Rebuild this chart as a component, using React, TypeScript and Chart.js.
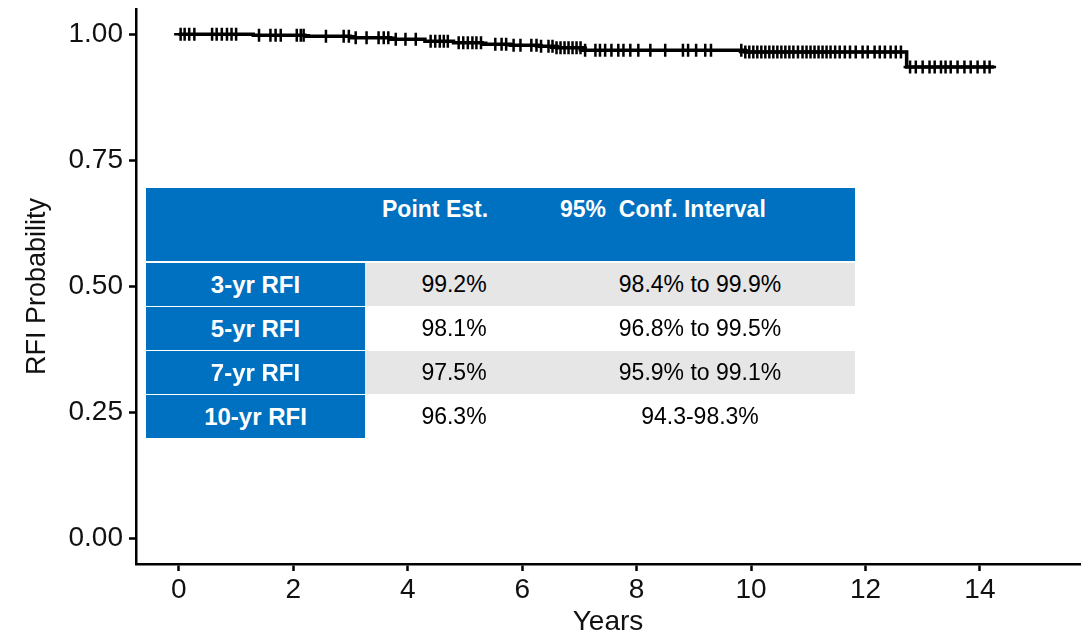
import React, { useEffect, useRef } from "react";
import { Chart, registerables } from "chart.js";

Chart.register(...registerables);

// Kaplan-Meier step curve (years, survival probability)
const kmTimes = [0, 1.3, 2.2, 3.0, 3.7, 4.3, 4.8, 5.3, 5.8, 6.3, 6.6, 7.05, 9.9, 12.72, 14.25];
const kmSurv = [1.0, 0.998, 0.996, 0.993, 0.99, 0.986, 0.983, 0.98, 0.978, 0.976, 0.973, 0.968, 0.965, 0.935, 0.935];

// Censoring times (years)
const censorTimes = [
  0.03, 0.1, 0.18, 0.27, 0.58, 0.66, 0.75, 0.84, 0.92, 1.0, 1.4, 1.6, 1.69, 1.78,
  2.06, 2.13, 2.18, 2.57, 2.88, 2.97, 3.09, 3.28, 3.49, 3.58, 3.66, 3.79, 3.96, 4.14,
  4.4, 4.48, 4.56, 4.63, 4.7, 4.89, 4.97, 5.05, 5.13, 5.2, 5.28, 5.53, 5.64, 5.72,
  5.85, 5.97, 6.16, 6.25, 6.33, 6.46, 6.53, 6.6, 6.67, 6.74, 6.81, 6.88, 6.95, 7.02,
  7.1, 7.28, 7.36, 7.45, 7.56, 7.68, 7.77, 7.89, 8.03, 8.24, 8.5, 8.81, 8.9, 9.04,
  9.2, 9.3, 9.83, 9.9, 9.97, 10.04, 10.11, 10.18, 10.25, 10.32, 10.39, 10.46, 10.53,
  10.6, 10.67, 10.74, 10.82, 10.9, 10.97, 11.04, 11.11, 11.18, 11.25, 11.32, 11.39,
  11.47, 11.55, 11.64, 11.73, 11.83, 11.95, 12.04, 12.16, 12.25, 12.34, 12.44, 12.53,
  12.62, 12.78, 12.88, 13.0, 13.12, 13.21, 13.32, 13.4, 13.49, 13.61, 13.73, 13.84,
  13.96, 14.08, 14.17,
];

const xTicks = [0, 2, 4, 6, 8, 10, 12, 14];
const yTicks = [0, 0.25, 0.5, 0.75, 1.0];

const headerPoint = "Point Est.";
const headerCI = "95%  Conf. Interval";
const rowLabels = ["3-yr RFI", "5-yr RFI", "7-yr RFI", "10-yr RFI"];
const pointEst = ["99.2%", "98.1%", "97.5%", "96.3%"];
const confInt = ["98.4% to 99.9%", "96.8% to 99.5%", "95.9% to 99.1%", "94.3-98.3%"];

const FONT = '"Liberation Sans", Arial, Helvetica, sans-serif';
const BLUE = "#0070C0";
const GRAY = "#E6E6E6";

function survAt(t: number): number {
  let s = kmSurv[0];
  for (let i = 0; i < kmTimes.length; i++) {
    if (kmTimes[i] <= t) s = kmSurv[i];
  }
  return s;
}

export default function App() {
  const ref = useRef<HTMLCanvasElement | null>(null);

  useEffect(() => {
    if (!ref.current) return;
    const chart = new Chart(ref.current, {
      type: "line",
      data: {
        datasets: [
          {
            type: "line",
            data: kmTimes.map((t, i) => ({ x: t, y: kmSurv[i] })),
            stepped: "before",
            borderColor: "#000",
            borderWidth: 3.5,
            pointRadius: 0,
            fill: false,
          } as any,
          {
            type: "scatter",
            data: censorTimes.map((t) => ({ x: t, y: survAt(t) })),
            pointStyle: "cross",
            pointRadius: 6.5,
            borderColor: "#000",
            backgroundColor: "#000",
            borderWidth: 2.5,
            showLine: false,
          } as any,
        ],
      },
      options: {
        animation: false,
        responsive: false,
        devicePixelRatio: 1,
        layout: { padding: { left: 0, top: 9, right: 7, bottom: 0 } },
        plugins: { legend: { display: false }, tooltip: { enabled: false } },
        scales: {
          x: {
            type: "linear",
            min: -0.75,
            max: 15.75,
            afterBuildTicks: (s: any) => {
              s.ticks = xTicks.map((v) => ({ value: v }));
            },
            afterFit: (s: any) => {
              s.height = 75;
              s.paddingLeft = 0;
              s.paddingRight = 0;
            },
            border: { display: true, color: "#000", width: 2.5 },
            grid: {
              display: true,
              drawOnChartArea: false,
              drawTicks: true,
              tickLength: 7,
              tickWidth: 2.5,
              tickColor: "#000",
            },
            ticks: {
              color: "#111",
              font: { family: FONT, size: 28 },
              padding: 2,
              maxRotation: 0,
              callback: (v: any) => String(v),
            },
            title: {
              display: true,
              text: "Years",
              color: "#111",
              font: { family: FONT, size: 28 },
              padding: { top: 0, bottom: 0 },
            },
          },
          y: {
            type: "linear",
            min: -0.05,
            max: 1.05,
            afterBuildTicks: (s: any) => {
              s.ticks = yTicks.map((v) => ({ value: v }));
            },
            afterFit: (s: any) => {
              s.width = 136;
              s.paddingTop = 0;
              s.paddingBottom = 0;
            },
            border: { display: true, color: "#000", width: 2.5 },
            grid: {
              display: true,
              drawOnChartArea: false,
              drawTicks: true,
              tickLength: 7,
              tickWidth: 2.5,
              tickColor: "#000",
            },
            ticks: {
              color: "#111",
              font: { family: FONT, size: 28 },
              padding: 6,
              callback: (v: any) => Number(v).toFixed(2),
            },
            title: {
              display: true,
              text: "RFI Probability",
              color: "#111",
              font: { family: FONT, size: 27 },
              padding: { top: 21, bottom: 0 },
            },
          },
        },
      } as any,
    });
    return () => chart.destroy();
  }, []);

  const rowTops = [263, 307, 351, 395];
  const rowH = 43;

  const cellText: React.CSSProperties = {
    position: "absolute",
    fontFamily: FONT,
    fontSize: 23,
    display: "flex",
    alignItems: "center",
    justifyContent: "center",
    whiteSpace: "pre",
  };

  return (
    <div style={{ position: "fixed", left: 0, top: 0, width: 1089, height: 639, background: "#fff" }}>
      <canvas ref={ref} width={1089} height={639} style={{ position: "absolute", left: 0, top: 0, width: 1089, height: 639 }} />
      {/* header */}
      <div style={{ position: "absolute", left: 146, top: 188, width: 709, height: 73, background: BLUE }} />
      <div style={{ position: "absolute", left: 382, top: 196, fontFamily: FONT, fontSize: 23, fontWeight: "bold", color: "#fff", whiteSpace: "pre" }}>
        {headerPoint}
      </div>
      <div style={{ position: "absolute", left: 560, top: 196, fontFamily: FONT, fontSize: 23, fontWeight: "bold", color: "#fff", whiteSpace: "pre" }}>
        {headerCI}
      </div>
      {rowLabels.map((lab, i) => (
        <React.Fragment key={lab}>
          {i % 2 === 0 && (
            <div style={{ position: "absolute", left: 365, top: rowTops[i], width: 490, height: rowH, background: GRAY }} />
          )}
          <div style={{ ...cellText, left: 146, top: rowTops[i], width: 219, height: rowH, background: BLUE, color: "#fff", fontWeight: "bold", fontSize: 24 }}>
            {lab}
          </div>
          <div style={{ ...cellText, left: 365, top: rowTops[i], width: 178, height: rowH, color: "#000" }}>
            {pointEst[i]}
          </div>
          <div style={{ ...cellText, left: 545, top: rowTops[i], width: 310, height: rowH, color: "#000" }}>
            {confInt[i]}
          </div>
        </React.Fragment>
      ))}
    </div>
  );
}
